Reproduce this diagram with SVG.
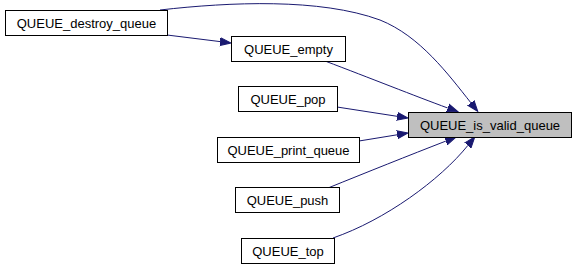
<svg xmlns="http://www.w3.org/2000/svg" width="576" height="270" viewBox="0 0 576 270">
  <style>
    .node rect { fill: #ffffff; stroke: #000000; stroke-width: 1; }
    .node.focus rect { fill: #bfbfbf; }
    .node text { font-family: "Liberation Sans", Arial, sans-serif; font-size: 13px; fill: #000000; text-anchor: middle; }
    .edge { fill: none; stroke: #191970; stroke-width: 1; marker-end: url(#arrow); }
  </style>
  <defs>
    <marker id="arrow" markerUnits="userSpaceOnUse" markerWidth="13" markerHeight="10" refX="0" refY="5" orient="auto" viewBox="0 0 13 10">
      <path d="M0,1 L11,5 L0,9 Z" fill="#191970" stroke="#191970" stroke-width="1"/>
    </marker>
  </defs>
  <rect width="576" height="270" fill="#ffffff"/>

  <g id="connectors">
    <path class="edge" d="M160,10 C230,2 320,-2 380,20 C420,36 448,74 470.9,102.8"/>
    <path class="edge" d="M167,35 L220.1,41.6"/>
    <path class="edge" d="M325,61 C370,78 415,96 447.7,108"/>
    <path class="edge" d="M337,107 L397.1,116.3"/>
    <path class="edge" d="M359,141 L397.1,134.8"/>
    <path class="edge" d="M328,188 C365,173 410,155 445.8,141.1"/>
    <path class="edge" d="M333,238 C385,220 440,180 467.9,145.4"/>
  </g>

  <g id="QUEUE_destroy_queue" class="node">
    <rect x="5.5" y="10.5" width="162" height="25"/>
    <text x="86.5" y="27.5">QUEUE_destroy_queue</text>
  </g>
  <g id="QUEUE_empty" class="node">
    <rect x="231.5" y="36.5" width="114" height="25"/>
    <text x="288.5" y="53.5">QUEUE_empty</text>
  </g>
  <g id="QUEUE_pop" class="node">
    <rect x="238.5" y="86.5" width="99" height="25"/>
    <text x="288" y="103.5">QUEUE_pop</text>
  </g>
  <g id="QUEUE_is_valid_queue" class="node focus">
    <rect x="408.5" y="112.5" width="163" height="25"/>
    <text x="490" y="129.5">QUEUE_is_valid_queue</text>
  </g>
  <g id="QUEUE_print_queue" class="node">
    <rect x="217.5" y="137.5" width="142" height="25"/>
    <text x="288.5" y="154.5">QUEUE_print_queue</text>
  </g>
  <g id="QUEUE_push" class="node">
    <rect x="235.5" y="187.5" width="104" height="25"/>
    <text x="287.5" y="204.5">QUEUE_push</text>
  </g>
  <g id="QUEUE_top" class="node">
    <rect x="241.5" y="238.5" width="93" height="25"/>
    <text x="288" y="255.5">QUEUE_top</text>
  </g>
</svg>
